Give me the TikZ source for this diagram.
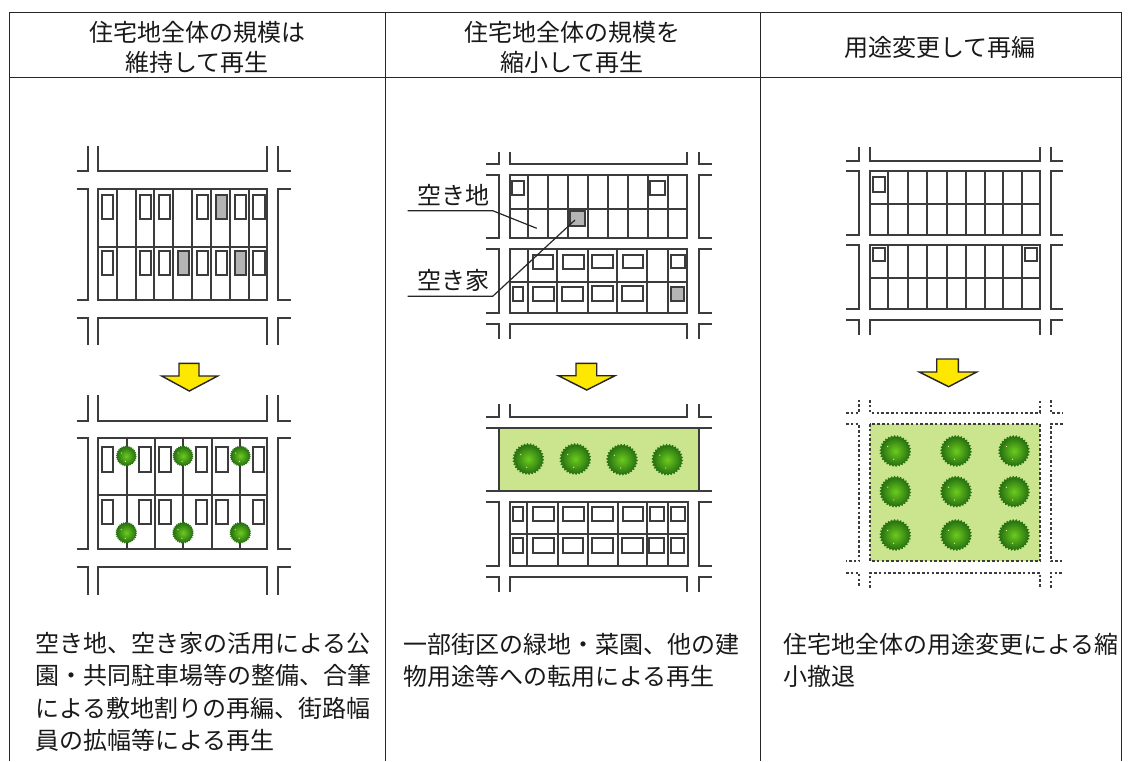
\documentclass[tikz,border=0pt]{standalone}
\usepackage{fontspec}
\setmainfont{Noto Sans CJK JP}
\definecolor{inkc}{HTML}{3C3C3C}
\definecolor{greyb}{HTML}{B4B4B4}
\definecolor{lawn}{HTML}{CBE58E}
\definecolor{treedk}{HTML}{2A7512}
\definecolor{treemid}{HTML}{6CCB1E}
\definecolor{arrowy}{HTML}{FFE800}
\tikzset{
  rule/.style={line width=1pt,draw=black!85},
  road/.style={line width=1.9pt,draw=inkc,line cap=butt,line join=miter},
  dots/.style={road,line width=2.2pt,dash pattern=on 2.6pt off 2.2pt},
  bldg/.style={line width=1.8pt,draw=inkc,fill=white},
  bldggrey/.style={bldg,fill=greyb},
  leader/.style={line width=1.2pt,draw=black!85},
  headtext/.style={font=\fontsize{24}{30}\selectfont,align=center,text=black!90,inner sep=0pt},
  bodytext/.style={font=\fontsize{24}{32.4}\selectfont,align=left,text=black!90,inner sep=0pt,anchor=north west},
  labeltext/.style={font=\fontsize{24}{28}\selectfont,text=black!90,inner sep=0pt},
  downarrow/.style={line width=1.4pt,draw=black!85,fill=arrowy,line join=miter}
}
% horizontal geometry of a panel
\newcommand{\setpanel}[6]{\def\XL{#1}\def\XR{#2}\def\SL{#3}\def\EL{#4}\def\SR{#5}\def\ER{#6}}
\newcommand{\topbar}[3]{%
  \draw[#1] (\XL,#2) -- (\XL,#3) -- (\XR,#3) -- (\XR,#2);
  \draw[#1] (\EL,#3) -- (\SL,#3) -- (\SL,#2);
  \draw[#1] (\SR,#2) -- (\SR,#3) -- (\ER,#3);}
\newcommand{\botbar}[3]{%
  \draw[#1] (\XL,#3) -- (\XL,#2) -- (\XR,#2) -- (\XR,#3);
  \draw[#1] (\EL,#2) -- (\SL,#2) -- (\SL,#3);
  \draw[#1] (\SR,#3) -- (\SR,#2) -- (\ER,#2);}
\newcommand{\sidebars}[3]{%
  \draw[#1] (\EL,#2) -- (\SL,#2) -- (\SL,#3) -- (\EL,#3);
  \draw[#1] (\ER,#2) -- (\SR,#2) -- (\SR,#3) -- (\ER,#3);}
\newcommand{\gridblock}[4]{%
  \draw[road] (\XL,#1) rectangle (\XR,#3);
  \draw[road] (\XL,#2) -- (\XR,#2);
  \foreach \dv in {#4} \draw[road] (\dv,#1) -- (\dv,#3);}
\newcommand{\houses}[4]{%
  \foreach \a/\b/\c/\d in {#4}
    \draw[#1] ({#2+\a/3},{#3+\c/3}) rectangle ({#2+\b/3},{#3+\d/3});}
\newcommand{\shrub}[3]{%
  \fill[treedk] plot[domain=0:360,samples=181]
     ({#1+#3*(1+.06*sin(30*\x))*cos(\x)},{#2+#3*(1+.06*sin(30*\x))*sin(\x)}) -- cycle;
  \shade[inner color=treemid,outer color=treedk] (#1,#2) circle ({#3*.93});
  \fill[white!60!lime] ({#1-#3*.5},{#2-#3*.3}) circle (.6pt) ({#1-#3*.1},{#2+#3*.55}) circle (.6pt);}
\newcommand{\dnarrow}[8]{%
  \draw[downarrow] (#1,#3) -- (#2,#3) -- (#2,#6) -- (#5,#6) -- (#7,#8) -- (#4,#6) -- (#1,#6) -- cycle;}
\begin{document}
\begin{tikzpicture}[x=1pt,y=-1pt]
\useasboundingbox (0,0) rectangle (1129,761);
% table
\coordinate (tl) at (9.5,12.5);
\coordinate (tr) at (1121,12.5);
\coordinate (hl) at (9.5,77.5);
\coordinate (hr) at (1121,77.5);
\coordinate (bl) at (9.5,761);
\coordinate (br) at (1121,761);
\coordinate (v1t) at (385,12.5);
\coordinate (v1b) at (385,761);
\coordinate (v2t) at (760.5,12.5);
\coordinate (v2b) at (760.5,761);
\draw[rule] (bl) -- (tl) -- (tr) -- (br);
\draw[rule] (hl) -- (hr);
\draw[rule] (v1t) -- (v1b);
\draw[rule] (v2t) -- (v2b);
\node[headtext] (h1) at (197,47.5) {住宅地全体の規模は\\維持して再生};
\node[headtext] (h2) at (572,47.5) {住宅地全体の規模を\\縮小して再生};
\node[headtext] (h3) at (940,47.5) {用途変更して再編};
\node[bodytext] (b1) at (35,632) {空き地、空き家の活用による公\\園・共同駐車場等の整備、合筆\\による敷地割りの再編、街路幅\\員の拡幅等による再生};
\node[bodytext] (b2) at (403,633) {一部街区の緑地・菜園、他の建\\物用途等への転用による再生};
\node[bodytext] (b3) at (783,633) {住宅地全体の用途変更による縮\\小撤退};
%
% panel A, before
\setpanel{98.3}{267.3}{87.7}{76.7}{278.3}{290.7}
\topbar{road}{146}{171.3}
\sidebars{road}{189.3}{300}
\botbar{road}{318}{345}
\gridblock{189.3}{246.7}{300}{116.7,135.7,154.3,173.3,192.3,211,230,249}
\houses{bldg}{60}{130}{127/160/196/268,240/274/196/268,297/331/196/268,410/444/196/268,524/557/196/268,580/614/196/268,
  127/160/362/436,240/274/362/436,297/331/362/436,410/444/362/436,467/500/362/436,580/614/362/436}
\houses{bldggrey}{60}{130}{467/500/196/268,354/387/362/436,524/557/362/436}
% panel A, after
\dnarrow{179}{199}{363.3}{161.7}{217.7}{376}{189.3}{391}
\topbar{road}{395}{420.7}
\sidebars{road}{438.3}{549.3}
\botbar{road}{567.3}{595}
\gridblock{438.3}{495.3}{549.3}{126.7,154.7,182.7,211.7,239.7}
\houses{bldg}{60}{350}{127/160/292/365,236/272/292/365,298/333/292/365,408/442/292/365,469/504/292/365,578/612/292/365,
  127/160/450/523,236/272/450/523,298/333/450/523,408/442/450/523,469/504/450/523,578/612/450/523}
\foreach \tx in {126.3,183,240.3} {\shrub{\tx}{456}{9.8}\shrub{\tx}{532.7}{10.2}}
%
% panel B, before
\setpanel{510}{687.3}{499.3}{486}{698.7}{711.7}
\topbar{road}{151.7}{164}
\sidebars{road}{174.7}{238.3}
\sidebars{road}{249.3}{313.3}
\botbar{road}{324}{339.3}
\gridblock{174.7}{208.7}{238.3}{527.7,548.3,567.7,587.7,608.3,627.7,647.7,667.7}
\gridblock{249.3}{282.3}{313.3}{527.7,557.3,588,617.3,647,667.7}
\houses{bldg}{400}{130}{335/372/153/195,750/795/153/195,
  398/460/374/417,489/551/374/417,577/639/374/415,668/730/374/415,814/855/374/415,
  340/370/470/514,400/462/470/514,487/549/470/514,577/639/468/512,667/729/468/512}
\houses{bldggrey}{400}{130}{510/555/244/287,812/853/470/512}
\coordinate (akichi1) at (407.7,210.7);
\coordinate (akichi2) at (492.7,210.7);
\coordinate (akichi3) at (536.7,228.3);
\coordinate (akiya1) at (407.7,296.3);
\coordinate (akiya2) at (492.7,296.3);
\coordinate (akiya3) at (575,220);
\draw[leader] (akichi1) -- (akichi2) -- (akichi3);
\draw[leader] (akiya1) -- (akiya2) -- (akiya3);
\node[labeltext] (lbl1) at (453,195) {空き地};
\node[labeltext] (lbl2) at (453,280) {空き家};
% panel B, after
\dnarrow{576}{596.7}{363.3}{558.3}{615}{375.7}{586.7}{390}
\fill[lawn] (499.3,427.7) rectangle (698.7,491);
\topbar{road}{404}{416.7}
\draw[road] (486,427.7) -- (711.7,427.7);
\draw[road] (486,491) -- (711.7,491);
\draw[road] (499.3,427.7) -- (499.3,491);
\draw[road] (698.7,427.7) -- (698.7,491);
\sidebars{road}{502.3}{565.7}
\botbar{road}{576.7}{592}
\setpanel{510}{688.3}{499.3}{486}{698.7}{711.7}
\gridblock{502.3}{534.3}{565.7}{527.3,557.7,587.7,617.7,647.3,667.7}
\houses{bldg}{460}{350}{160/190/470/512,218/281/470/512,308/372/470/512,396/459/470/512,488/550/470/512,570/613/470/512,634/674/470/512,
  160/190/565/608,220/281/565/608,308/370/565/608,396/459/565/608,487/549/565/608,568/612/565/608,632/672/565/608}
\foreach \tx/\ty in {528.3/459,575.3/459,622/459.7,667.3/459.7} {\shrub{\tx}{\ty}{15}}
%
% panel C, before
\setpanel{870}{1040}{859.3}{846}{1050.7}{1062.7}
\topbar{road}{146.7}{160.7}
\sidebars{road}{171}{235}
\sidebars{road}{245.3}{309.3}
\botbar{road}{320.3}{335}
\gridblock{171}{204.3}{235}{888,908,927.3,947,965.7,984.7,1003,1022.3}
\gridblock{245.3}{277.7}{309.3}{888,908,927.3,947,965.7,984.7,1003,1022.3}
\houses{bldg}{820}{130}{158/194/140/185,160/195/355/392,615/652/355/392}
% panel C, after
\dnarrow{936.7}{958.3}{359}{919.3}{976.7}{372}{948.7}{386.7}
\fill[lawn] (870,424) rectangle (1040,561.3);
\topbar{dots}{400}{412.7}
\sidebars{dots}{424}{561.3}
\botbar{dots}{572.7}{588}
\draw[dots] (870,424) rectangle (1040,561.3);
\foreach \tx in {895.3,956,1014} \foreach \ty in {451,491.7,535} {\shrub{\tx}{\ty}{15}}
\end{tikzpicture}
\end{document}
